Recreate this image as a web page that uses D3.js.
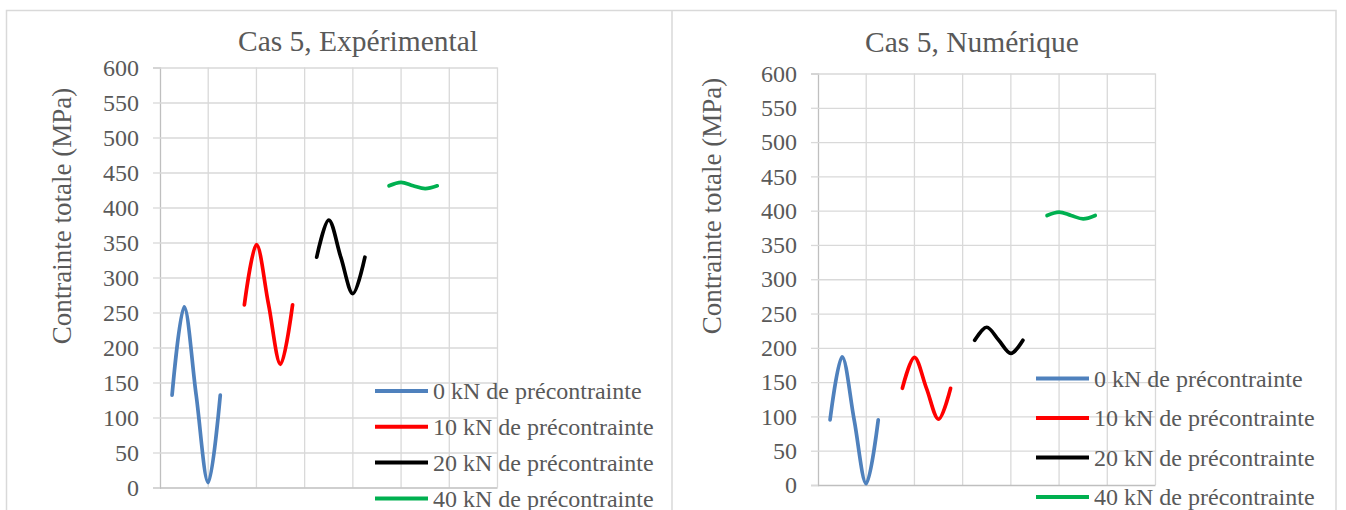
<!DOCTYPE html>
<html>
<head>
<meta charset="utf-8">
<script src="https://cdn.jsdelivr.net/npm/d3@7"></script>
<style>
  body { margin: 0; background: #fff; }
  text { font-family: "Liberation Serif", "Times New Roman", serif; fill: #595959; }
</style>
</head>
<body>
<svg id="chart" width="1346" height="510"></svg>
<script>
// values
const yTicks = [0, 50, 100, 150, 200, 250, 300, 350, 400, 450, 500, 550, 600];
const xGrid = [0, 1, 2, 3, 4, 5, 6, 7];
const seriesNames = ["0 kN de précontrainte", "10 kN de précontrainte", "20 kN de précontrainte", "40 kN de précontrainte"];
const seriesX = [
    [0.25, 0.5, 0.75, 1.0, 1.25],
    [1.75, 2.0, 2.25, 2.5, 2.75],
    [3.25, 3.5, 3.75, 4.0, 4.25],
    [4.75, 5.0, 5.25, 5.5, 5.75]
];
const expValues = [
    [132, 258, 132, 7, 132],
    [261, 347, 262, 176, 261],
    [329, 382, 329, 277, 329],
    [431, 436, 431, 427, 431]
];
const numValues = [
    [95, 187, 95, 2, 95],
    [141, 186, 141, 96, 141],
    [211, 230, 211, 192, 211],
    [393, 398, 393, 388, 393]
];
const colors = ["#4f81bd", "#ff0000", "#000000", "#00b050"];

const svg = d3.select("#chart");

// panel frames
svg.append("path")
    .attr("d", "M6.5,520V10.5H672V520M672,10.5H1336V520")
    .attr("fill", "none")
    .attr("stroke", "#d9d9d9")
    .attr("stroke-width", 1.5);

function drawChart(cfg, values) {
    const x = d3.scaleLinear().domain([0, 7]).range([cfg.left, cfg.right]);
    const y = d3.scaleLinear().domain([0, 600]).range([cfg.bottom, cfg.top]);
    const g = svg.append("g");

    // title
    g.append("text")
        .attr("x", cfg.titleX).attr("y", cfg.titleY)
        .attr("text-anchor", "middle")
        .attr("dy", "0.35em")
        .style("font-size", "29.5px")
        .text(cfg.title);

    // vertical gridlines
    g.selectAll(".vgrid").data(xGrid.slice(1)).enter().append("line")
        .attr("x1", d => x(d)).attr("x2", d => x(d))
        .attr("y1", y(0)).attr("y2", y(600))
        .attr("stroke", "#d9d9d9").attr("stroke-width", 1.3);

    // y axis with horizontal gridlines
    const yAxis = d3.axisLeft(y).tickValues(yTicks).tickSize(7).tickPadding(14);
    const ax = g.append("g")
        .attr("transform", "translate(" + cfg.left + ",0)")
        .call(yAxis);
    ax.select(".domain").attr("stroke", "#bfbfbf").attr("stroke-width", 1.3);
    ax.selectAll(".tick line").attr("stroke", "#d9d9d9").attr("stroke-width", 1.3);
    ax.selectAll(".tick").append("line")
        .attr("x1", 0).attr("x2", cfg.right - cfg.left)
        .attr("stroke", d => d === 0 ? "#bfbfbf" : "#d9d9d9")
        .attr("stroke-width", 1.3);
    ax.selectAll(".tick text")
        .attr("fill", "#595959")
        .style("font-family", "'Liberation Serif', serif")
        .style("font-size", "24px");

    // y title
    g.append("text")
        .attr("transform", "translate(" + cfg.yTitleX + "," + cfg.yTitleY + ") rotate(-90)")
        .attr("text-anchor", "middle")
        .attr("dy", "0.35em")
        .style("font-size", "27px")
        .text("Contrainte totale (MPa)");

    // series
    const line = d3.line()
        .x(d => x(d[0]))
        .y(d => y(d[1]))
        .curve(d3.curveCatmullRom.alpha(0));
    values.forEach((vals, i) => {
        const pts = vals.map((v, j) => [seriesX[i][j], v]);
        g.append("path")
            .datum(pts)
            .attr("d", line)
            .attr("fill", "none")
            .attr("stroke", colors[i])
            .attr("stroke-width", 3.7)
            .attr("stroke-linecap", "round");
    });

    // legend
    const leg = g.selectAll(".leg").data(seriesNames).enter().append("g")
        .attr("transform", (d, i) => "translate(" + cfg.legX + "," + (cfg.legY + i * cfg.legStep) + ")");
    leg.append("line")
        .attr("x1", 0).attr("x2", 53)
        .attr("stroke", (d, i) => colors[i])
        .attr("stroke-width", 4);
    leg.append("text")
        .attr("x", 58)
        .attr("dy", "0.35em")
        .style("font-size", "24px")
        .text(d => d);
}

drawChart({
    title: "Cas 5, Expérimental", titleX: 358, titleY: 41,
    left: 160, right: 497.5, top: 67.5, bottom: 487.5,
    yTitleX: 62, yTitleY: 216,
    legX: 375, legY: 391, legStep: 35.8
}, expValues);

drawChart({
    title: "Cas 5, Numérique", titleX: 972, titleY: 42,
    left: 818, right: 1155.5, top: 73.5, bottom: 485,
    yTitleX: 712, yTitleY: 206,
    legX: 1036, legY: 378.5, legStep: 39.5
}, numValues);
</script>
</body>
</html>
